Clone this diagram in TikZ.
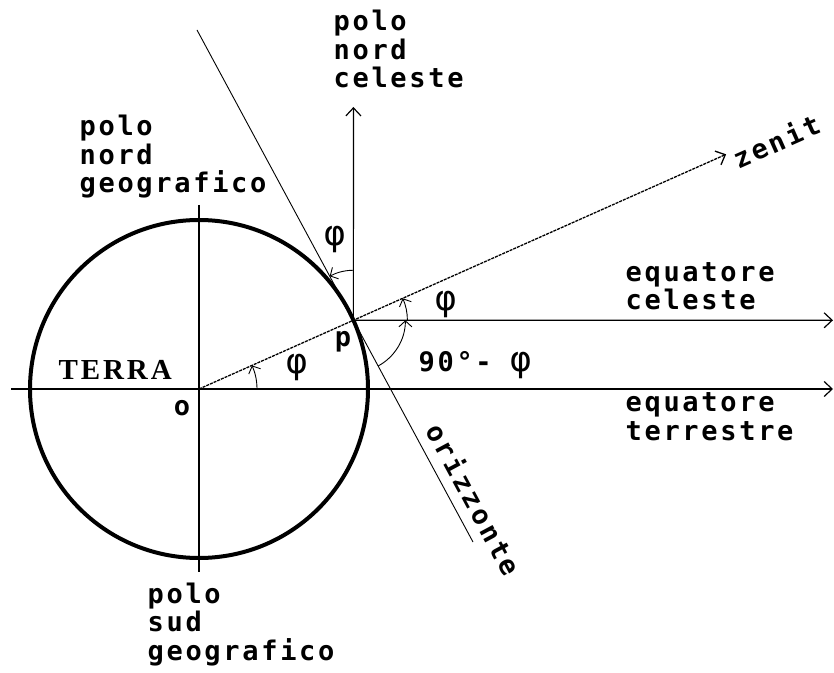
\documentclass[tikz,border=0pt]{standalone}
\usepackage{fontspec}
\usepackage{tikz}
\usetikzlibrary{arrows.meta, calc}

\newfontfamily\labelfont{DejaVu Sans Mono}[LetterSpace=10]
\newfontfamily\terrafont{Liberation Serif}[LetterSpace=10]

\tikzset{
  barb/.style={-{Straight Barb[length=8pt,width=15pt]}},
  anglearc/.style={line width=0.9pt,-{Straight Barb[length=6pt,width=13pt]}},
  lbl/.style={font=\labelfont\bfseries\fontsize{27}{28.5}\selectfont, inner sep=0pt, align=left},
  greek/.style={font=\labelfont\fontsize{35}{35}\selectfont, inner sep=0pt}
}

\begin{document}
\begin{tikzpicture}[x=1pt,y=1pt,line width=1.2pt]
                \useasboundingbox (0,0) rectangle (834,672);

                % centre of the earth and the place p
                \coordinate (O) at (199,283);
                \coordinate (P) at ($(O)+(24:169)$);
                \coordinate (ncp) at (353.4,565);
                \coordinate (zen) at ($(O)+(24:577)$);
                \coordinate (hortop) at (197,642);
                \coordinate (horbot) at (473,130);

                % earth
                \draw[line width=4pt] (O) circle[radius=169];
                \draw (199,467) -- (199,100);
                \draw[barb] (11,283) -- (833,283);

                % lines through p
                \draw[barb] (P) -- (ncp);
                \draw[barb] (P) -- (833,351.7);
                \draw[barb, line width=1.3pt, dash pattern=on 3pt off 1pt] (O) -- (zen);
                \draw[line width=0.9pt] (hortop) -- (horbot);

                % angles
                \draw[anglearc] ($(O)+(0:58)$) arc[start angle=0, end angle=24, radius=58];
                \draw[anglearc] ($(P)+(90:50)$) arc[start angle=90, end angle=118.3, radius=50];
                \draw[anglearc] ($(P)+(-61.7:52)$) arc[start angle=-61.7, end angle=0, radius=52];
                \draw[anglearc] ($(P)+(0:54)$) arc[start angle=0, end angle=24, radius=54];

                % labels (base = last line)
                \node[lbl, anchor=base west] (pngeo) at (79,479) {polo\\nord\\geografico};
                \node[lbl, anchor=base west] (pncel) at (333,584) {polo\\nord\\celeste};
                \node[lbl, anchor=base west] (psgeo) at (147,12) {polo\\sud\\geografico};
                \node[lbl, anchor=base west] (eqcel) at (625,362) {equatore\\celeste};
                \node[lbl, anchor=base west] (eqter) at (625,232) {equatore\\terrestre};
                \node[font=\terrafont\bfseries\fontsize{29}{29}\selectfont, inner sep=0pt, anchor=base west] (terra) at (58,292) {TERRA};
                \node[lbl] (olbl) at (182,264) {o};
                \node[lbl] (plbl) at (343,330) {p};
                \node[greek] (phiO) at (297,304) {φ};
                \node[greek] (phiN) at (335,432) {φ};
                \node[greek] (phiE) at (446,367) {φ};
                \node[lbl, anchor=base west] (compl) at (418,300) {90°- {\fontsize{35}{35}\selectfont\mdseries φ}};
                \node[lbl, rotate=24] (zenit) at (776,531) {zenit};
                \node[lbl, rotate=-61.7] (oriz) at (474,173) {orizzonte};
\end{tikzpicture}
\end{document}
